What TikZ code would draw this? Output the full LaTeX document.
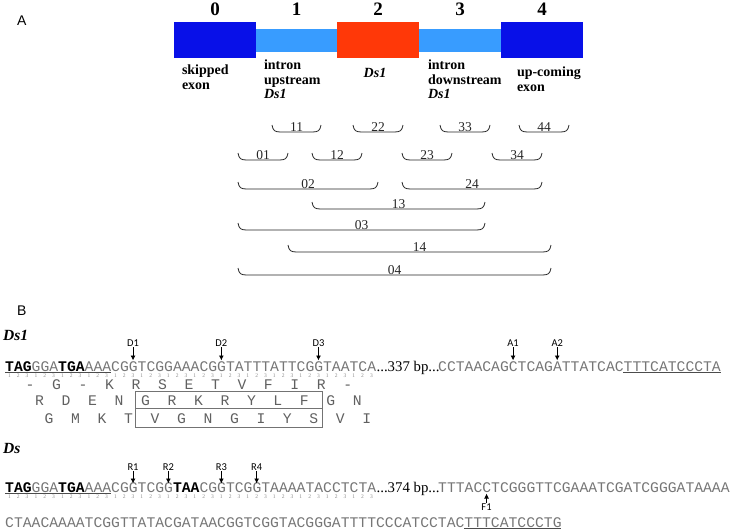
\documentclass[tikz,border=0pt]{standalone}
\usepackage{fontspec}
\setmainfont{Liberation Serif}
\setsansfont{Carlito}
\setmonofont{Liberation Mono}
\newfontfamily\panelfont{Liberation Sans}
\usetikzlibrary{positioning,arrows.meta}

\definecolor{exonblue}{RGB}{8,16,232}
\definecolor{intronblue}{RGB}{56,156,255}
\definecolor{dsred}{RGB}{255,56,8}
\definecolor{seqgrey}{RGB}{118,118,118}
\definecolor{aagrey}{RGB}{96,96,96}

\newcommand{\stopc}[1]{{\bfseries\color{black}#1}}

\tikzset{
  exonbox/.style={inner sep=0pt, minimum width=82pt, minimum height=36pt},
  intronbox/.style={fill=intronblue, inner sep=0pt, minimum width=82pt, minimum height=23pt},
  regnum/.style={inner sep=0pt, font=\fontsize{19}{21}\selectfont\bfseries},
  reglabel/.style={inner sep=0pt, align=left, font=\fontsize{14}{14.5}\selectfont\bfseries},
  spanline/.style={line width=0.8pt, black!85},
  spanlabel/.style={inner sep=0pt, anchor=base, black!85, font=\fontsize{13.5}{15}\selectfont},
  panel/.style={inner sep=0pt, anchor=base west, font=\panelfont\fontsize{14}{16}\selectfont},
  genename/.style={inner sep=0pt, anchor=base west, font=\fontsize{15.5}{17}\selectfont\bfseries\itshape},
  seqtext/.style={inner sep=0pt, anchor=base west, seqgrey, font=\ttfamily\fontsize{14.72}{16}\selectfont},
  bpgap/.style={inner sep=0pt, anchor=base west, font=\fontsize{14.8}{16}\selectfont},
  codonpos/.style={inner sep=0pt, black!45, font=\fontsize{5.5}{6}\selectfont},
  aminoacid/.style={inner sep=0pt, anchor=base, aagrey, font=\ttfamily\fontsize{14.72}{16}\selectfont},
  framebox/.style={draw=black!55, line width=0.8pt, inner sep=0pt, minimum width=187pt, minimum height=17pt},
  cutlabel/.style={inner sep=0.5pt, font=\sffamily\fontsize{10.5}{11}\selectfont},
  cutarrow/.style={-{Latex[length=5pt,width=5pt]}, line width=0.9pt},
  uline/.style={line width=0.8pt, black!70},
}

\begin{document}
\begin{tikzpicture}[x=1pt,y=-1pt]
  \useasboundingbox (0,0) rectangle (733,530);

  % panel A: regions of the locus
  \node[panel] (panelA) at (17,25) {A};
  \node[exonbox, fill=exonblue] (r0) at (215,40) {};
  \node[intronbox, minimum width=81pt] (r1) at (296.5,40.5) {};
  \node[exonbox, fill=dsred] (r2) at (378,40) {};
  \node[intronbox] (r3) at (460,40.5) {};
  \node[exonbox, fill=exonblue] (r4) at (542,40) {};
  \foreach \r/\d in {0/6pt,1/13pt,2/6pt,3/13pt,4/6pt}
    \node[regnum, above=\d of r\r] (n\r) {\r};

  \node[reglabel, anchor=north west] (l0) at ([xshift=8pt,yshift=-6.5pt]r0.south west) {skipped\\exon};
  \node[reglabel, anchor=north west] (l1) at ([xshift=8pt,yshift=-7.5pt]r1.south west) {intron\\upstream\\\textit{Ds1}};
  \node[reglabel, anchor=north] (l2) at ([xshift=-3pt,yshift=-10pt]r2.south) {\textit{Ds1}};
  \node[reglabel, anchor=north west] (l3) at ([xshift=9pt,yshift=-7.5pt]r3.south west) {intron\\downstream\\\textit{Ds1}};
  \node[reglabel, anchor=north west] (l4) at ([xshift=16pt,yshift=-8.5pt]r4.south west) {up-coming\\exon};

  % spans between regions
  \foreach \xa/\xb/\yb/\lab in {272/321/132/11, 353/403/132/22, 440/490/132/33, 519/569/132/44,
      238/288/160/01, 312/362/160/12, 402/452/160/23, 492/542/160/34,
      238/378/189/02, 402/542/189/24, 312/485/209/13, 238/485/230/03,
      288/551/252/14, 238/551/275/04} {
    \draw[spanline] (\xa,\yb-7) .. controls (\xa+1,\yb-1) and (\xa+3,\yb) .. (\xa+9,\yb)
      -- (\xb-9,\yb) .. controls (\xb-3,\yb) and (\xb-1,\yb-1) .. (\xb,\yb-7);
    \node[spanlabel] (s\lab) at ({(\xa+\xb)/2},\yb-0.8) {\lab};
  }

  % panel B: Ds1
  \node[panel] (panelB) at (17,315) {B};
  \node[genename] (gDs1) at (3,340) {Ds1};
  \node[seqtext] (s1a) at (5,371) {\stopc{TAG}GGA\stopc{TGA}AAACGGTCGGAAACGGTATTTATTCGGTAATCA};
  \node[bpgap] (s1gap) at (s1a.base east) {...337 bp...};
  \node[seqtext] (s1b) at (438,371) {CCTAACAGCTCAGATTATCACTTTCATCCCTA};
  \draw[uline] ([yshift=-1.3pt]s1a.base west) -- ++(105.96,0);
  \draw[uline] ([xshift=185.43pt,yshift=-1.3pt]s1b.base west) -- ++(97.13,0);

  \foreach \i in {0,...,41} {
    \pgfmathtruncatemacro{\pos}{mod(\i,3)+1}
    \node[codonpos] (c1-\i) at ({5+(\i+0.5)*8.83},375.5) {\pos};
    \node[codonpos] (c2-\i) at ({5+(\i+0.5)*8.83},496.5) {\pos};
  }

  \foreach \lab/\i in {D1/14,D2/24,D3/35} {
    \node[cutlabel] (\lab) at ({5+(\i+0.5)*8.83},343) {\lab};
    \coordinate (\lab tip) at ({5+(\i+0.5)*8.83},360.5);
    \draw[cutarrow] (\lab) -- (\lab tip);
  }
  \foreach \lab/\i in {A1/8,A2/13} {
    \node[cutlabel] (\lab) at ({438+(\i+0.5)*8.83},343) {\lab};
    \coordinate (\lab tip) at ({438+(\i+0.5)*8.83},360.5);
    \draw[cutarrow] (\lab) -- (\lab tip);
  }

  % three reading frames
  \foreach \a [count=\k from 0] in {-,G,-,K,R,S,E,T,V,F,I,R,-}
    \node[aminoacid] (fa\k) at ({30+26.49*\k},389) {\a};
  \foreach \a [count=\k from 0] in {R,D,E,N,G,R,K,R,Y,L,F,G,N}
    \node[aminoacid] (fb\k) at ({39.5+26.49*\k},405) {\a};
  \foreach \a [count=\k from 0] in {G,M,K,T,V,G,N,G,I,Y,S,V,I}
    \node[aminoacid] (fc\k) at ({49+26.49*\k},423) {\a};
  \node[framebox] (orf2) at (228.5,399.5) {};
  \node[framebox, minimum height=19pt] (orf3) at (228.5,417.5) {};

  % Ds
  \node[genename] (gDs) at (3,453) {Ds};
  \node[seqtext] (s2a) at (5,492) {\stopc{TAG}GGA\stopc{TGA}AAACGGTCGG\stopc{TAA}CGGTCGGTAAAATACCTCTA};
  \node[bpgap] (s2gap) at (s2a.base east) {...374 bp...};
  \node[seqtext] (s2b) at (438,492) {TTTACCTCGGGTTCGAAATCGATCGGGATAAAA};
  \node[seqtext] (s2c) at (5,527) {CTAACAAAATCGGTTATACGATAACGGTCGGTACGGGATTTTCCCATCCTACTTTCATCCCTG};
  \draw[uline] ([yshift=-1.3pt]s2a.base west) -- ++(105.96,0);
  \draw[uline] ([xshift=459.16pt,yshift=-1.3pt]s2c.base west) -- ++(97.13,0);

  \foreach \lab/\i in {R1/14,R2/18,R3/24,R4/28} {
    \node[cutlabel] (\lab) at ({5+(\i+0.5)*8.83},467) {\lab};
    \coordinate (\lab tip) at ({5+(\i+0.5)*8.83},483.5);
    \draw[cutarrow] (\lab) -- (\lab tip);
  }
  \node[cutlabel] (F1) at ({438+5.5*8.83},507.5) {F1};
  \coordinate (F1 tip) at ({438+5.5*8.83},493.5);
  \draw[cutarrow] (F1) -- (F1 tip);
\end{tikzpicture}
\end{document}
